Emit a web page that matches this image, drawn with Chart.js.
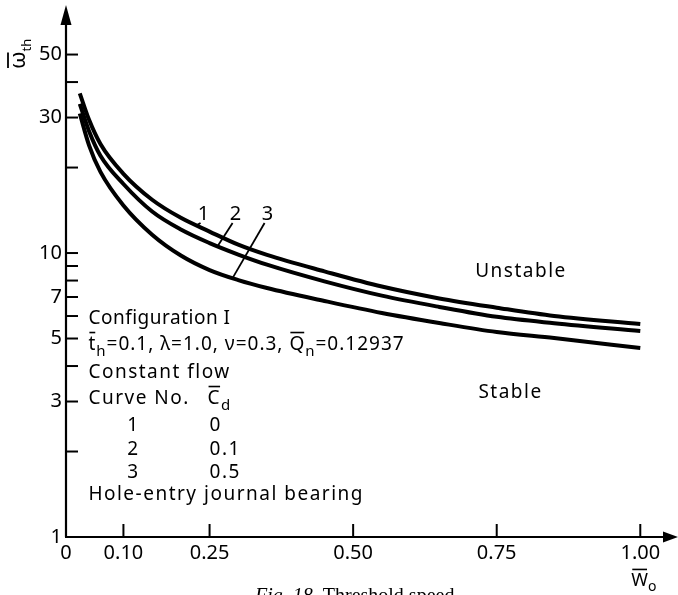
<!DOCTYPE html>
<html>
<head>
<meta charset="utf-8">
<script src="https://cdn.jsdelivr.net/npm/chart.js@4/dist/chart.umd.min.js"></script>
<style>
  html, body { margin: 0; padding: 0; background: #fff; }
  #wrap { width: 678px; height: 595px; }
</style>
</head>
<body>
<div id="wrap"><canvas id="c" width="678" height="595"></canvas></div>
<script>
// Dimensionless load (W̄o) sample points shared by all curves
const loadValues = [0.024, 0.04, 0.06, 0.10, 0.15, 0.20, 0.25, 0.30, 0.35, 0.45, 0.55, 0.65, 0.75, 0.85, 1.00];

// Threshold speed ω̄th for each curve
const thresholdCurve1 = [36.5, 29.5, 24.2, 19.0, 15.4, 13.3, 11.9, 10.7, 9.85, 8.62, 7.62, 6.92, 6.42, 6.00, 5.62];
const thresholdCurve2 = [33.5, 26.9, 22.0, 17.5, 14.0, 12.1, 10.84, 9.88, 9.10, 7.95, 7.08, 6.46, 5.96, 5.66, 5.31];
const thresholdCurve3 = [31.0, 24.0, 19.3, 14.7, 11.6, 9.8, 8.71, 8.03, 7.53, 6.78, 6.15, 5.67, 5.27, 5.02, 4.63];

// Curve numbers and their C̄d values
const curveNumbers = ['1', '2', '3'];
const cdValues = ['0', '0.1', '0.5'];

// Axis ticks
const xTickValues = [0, 0.10, 0.25, 0.50, 0.75, 1.00];
const yTickValues = [1, 2, 3, 4, 5, 6, 7, 8, 9, 10, 20, 30, 40, 50];
const yLabelValues = [1, 3, 5, 7, 10, 30, 50];

const FONT = '"Noto Sans", "DejaVu Sans", sans-serif';
const curves = [thresholdCurve1, thresholdCurve2, thresholdCurve3];

// log-linear interpolation along a curve (used to land leader lines on it)
function curveValueAt(vals, w) {
  for (let i = 1; i < loadValues.length; i++) {
    if (w <= loadValues[i]) {
      const t = (w - loadValues[i - 1]) / (loadValues[i] - loadValues[i - 1]);
      const a = Math.log(vals[i - 1]), b = Math.log(vals[i]);
      return Math.exp(a + (b - a) * t);
    }
  }
  return vals[vals.length - 1];
}

const decorations = {
  id: 'decorations',
  afterDraw(chart) {
    const { ctx, chartArea: area, scales: { x: xs, y: ys } } = chart;
    const px = v => xs.getPixelForValue(v);
    const py = v => ys.getPixelForValue(v);
    const ox = px(0), oy = py(1);

    ctx.save();
    ctx.strokeStyle = '#000';
    ctx.fillStyle = '#000';
    ctx.lineCap = 'butt';

    const line = (x1, y1, x2, y2, w) => {
      ctx.lineWidth = w;
      ctx.beginPath(); ctx.moveTo(x1, y1); ctx.lineTo(x2, y2); ctx.stroke();
    };
    const tri = (pts) => {
      ctx.beginPath(); ctx.moveTo(pts[0], pts[1]);
      ctx.lineTo(pts[2], pts[3]); ctx.lineTo(pts[4], pts[5]);
      ctx.closePath(); ctx.fill();
    };

    // axes with arrow heads
    line(ox, oy, ox, area.top + 2, 2.2);
    line(ox - 1, oy, area.right - 2, oy, 2.2);
    tri([ox, area.top - 17, ox - 5.5, area.top + 3, ox + 5.5, area.top + 3]);
    tri([area.right + 9, oy, area.right - 6, oy - 5.5, area.right - 6, oy + 5.5]);

    // inward tick marks
    yTickValues.filter(v => v > 1).forEach(v => {
      const p = py(v); line(ox, p, ox + 12, p, 2);
    });
    xTickValues.filter(v => v > 0).forEach(v => {
      const p = px(v); line(p, oy, p, oy - 13, 2);
    });

    // text helpers
    const setFont = (size, style) => {
      ctx.font = (style || '') + ' ' + size + 'px ' + FONT;
    };
    const spacing = s => { ctx.letterSpacing = s + 'px'; };
    ctx.textBaseline = 'alphabetic';

    // draw a run of segments: {t, bar, sub}
    const rich = (segs, x, y, size) => {
      let cx = x;
      segs.forEach(s => {
        const sz = s.sub ? Math.round(size * 0.78) : size;
        setFont(sz);
        ctx.textAlign = 'left';
        const dy = s.sub ? size * 0.3 : 0;
        ctx.fillText(s.t, cx, y + dy);
        const w = ctx.measureText(s.t).width;
        if (s.bar) line(cx + 1, y - size * 0.92, cx + w - 1, y - size * 0.92, 1.6);
        cx += w;
      });
    };

    const SZ = 19;
    const tx = 0.039;
    setFont(SZ);
    ctx.textAlign = 'left';
    spacing(0.5);
    ctx.fillText('Configuration I', px(tx), py(5.62));
    spacing(1);
    rich([
      { t: 't', bar: true }, { t: 'h', sub: true },
      { t: '=0.1, λ=1.0, ν=0.3, ' },
      { t: 'Q', bar: true }, { t: 'n', sub: true },
      { t: '=0.12937' }
    ], px(tx), py(4.555), SZ);
    spacing(1.5);
    setFont(SZ);
    ctx.textAlign = 'left';
    ctx.fillText('Constant flow', px(tx), py(3.63));
    ctx.fillText('Curve No.', px(tx), py(2.94));
    rich([{ t: 'C', bar: true }, { t: 'd', sub: true }], px(0.2465), py(2.94), SZ);

    const rowY = [2.362, 1.944, 1.613];
    curveNumbers.forEach((n, i) => {
      setFont(SZ);
      ctx.textAlign = 'center';
      ctx.fillText(n, px(0.1176), py(rowY[i]));
      ctx.textAlign = 'left';
      ctx.fillText(cdValues[i], px(0.25), py(rowY[i]));
    });
    setFont(SZ);
    ctx.textAlign = 'left';
    ctx.fillText('Hole-entry journal bearing', px(tx), py(1.35));

    // region labels
    ctx.textAlign = 'right';
    ctx.fillText('Unstable', px(0.872), py(8.23));
    ctx.fillText('Stable', px(0.830), py(3.087));

    // curve number labels with leader lines
    spacing(0);
    const labelX = [0.2395, 0.2953, 0.351];
    const hitX = [0.2273, 0.2639, 0.290];
    curveNumbers.forEach((n, i) => {
      setFont(20);
      ctx.textAlign = 'center';
      const lx = px(labelX[i]), ly = py(13.07);
      ctx.fillText(n, lx, ly);
      const hx = px(hitX[i]), hy = py(curveValueAt(curves[i], hitX[i]));
      line(lx - 3, ly + 3, hx, hy, 1.8);
    });

    // y-axis title ω̄th, reading upward
    ctx.save();
    ctx.translate(25, 69);
    ctx.rotate(-Math.PI / 2);
    ctx.textAlign = 'left';
    setFont(22);
    ctx.fillText('ω', 0, 0);
    const ww = ctx.measureText('ω').width;
    line(1, -17, ww - 1, -17, 1.8);
    setFont(13);
    ctx.fillText('th', ww, 6);
    ctx.restore();

    // x-axis title W̄o
    rich([{ t: 'W', bar: true }, { t: 'o', sub: true }], px(1.0) - 9, 586, 18);

    // figure caption
    ctx.textAlign = 'left';
    ctx.font = 'italic 20px "Liberation Serif", serif';
    ctx.fillText('Fig. 18.', 255, 602);
    const fw = ctx.measureText('Fig. 18. ').width;
    ctx.font = '20px "Liberation Serif", serif';
    ctx.fillText('Threshold speed', 255 + fw, 602);

    ctx.restore();
  }
};

new Chart(document.getElementById('c'), {
  type: 'line',
  data: {
    datasets: curves.map((vals, i) => ({
      label: 'Curve ' + curveNumbers[i],
      data: loadValues.map((w, j) => ({ x: w, y: vals[j] })),
      borderColor: '#000',
      borderWidth: 4,
      pointRadius: 0,
      fill: false,
      cubicInterpolationMode: 'monotone'
    }))
  },
  options: {
    responsive: false,
    animation: false,
    devicePixelRatio: 1,
    layout: { padding: { top: 22, right: 9, left: 0, bottom: 0 } },
    plugins: { legend: { display: false }, tooltip: { enabled: false } },
    scales: {
      x: {
        type: 'linear', min: 0, max: 1.05,
        grid: { display: false, drawTicks: false },
        border: { display: false },
        afterBuildTicks: s => { s.ticks = xTickValues.map(v => ({ value: v })); },
        afterFit: s => { s.height = 58; },
        ticks: {
          autoSkip: false, maxRotation: 0, padding: 4, color: '#000',
          font: { family: FONT, size: 20 },
          callback: v => (v === 0 ? '0' : v.toFixed(2))
        }
      },
      y: {
        type: 'logarithmic', min: 1, max: 65.1,
        grid: { display: false, drawTicks: false },
        border: { display: false },
        afterBuildTicks: s => { s.ticks = yTickValues.map(v => ({ value: v })); },
        afterFit: s => { s.width = 66; },
        ticks: {
          autoSkip: false, padding: 4, color: '#000',
          font: { family: FONT, size: 20 },
          callback: v => (yLabelValues.includes(v) ? String(v) : '')
        }
      }
    }
  },
  plugins: [decorations]
});
</script>
</body>
</html>
